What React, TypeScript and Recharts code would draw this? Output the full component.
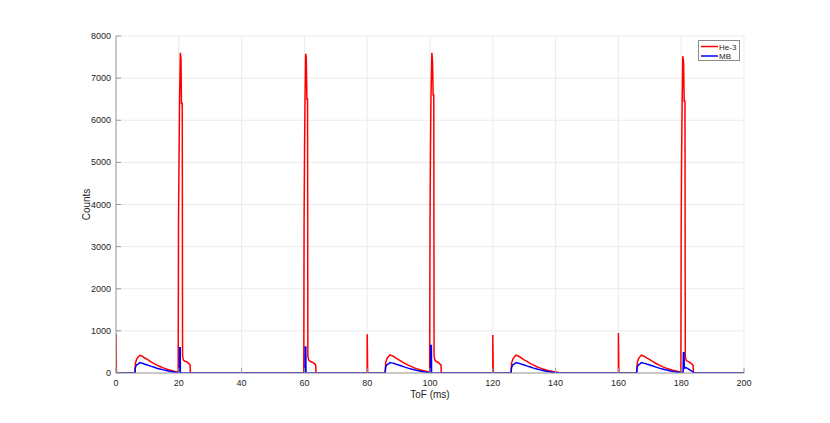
import React from 'react';
import { LineChart, Line, XAxis, YAxis, CartesianGrid, Legend } from 'recharts';

const xTicks = [0, 20, 40, 60, 80, 100, 120, 140, 160, 180, 200];
const yTicks = [0, 1000, 2000, 3000, 4000, 5000, 6000, 7000, 8000];

// He-3 detector counts: [time (ms), counts]
const he3Points: [number, number][] = [
  [0, 930], [0.15, 0],
  [6.0, 0], [6.2, 240], [6.6, 330], [7.0, 372], [7.6, 420], [8.0, 408], [8.5, 392], [9.0, 362], [10, 322], [11, 270], [12, 230], [13, 186], [14, 154], [15, 121], [16, 96], [17, 71], [18, 53], [19, 33], [19.8, 20],
  [19.9, 3500], [20.1, 5300], [20.25, 6500], [20.5, 7600], [20.7, 7450], [20.85, 6400], [21.1, 6400], [21.2, 400], [21.5, 300], [22, 280], [22.6, 262], [23.2, 222], [23.6, 190], [23.7, 0],
  [59.8, 0], [59.9, 3600], [60.05, 5300], [60.2, 6500], [60.4, 7580], [60.6, 7480], [60.8, 6500], [61.0, 6500], [61.1, 400], [61.4, 300], [62, 272], [62.6, 250], [63.2, 222], [63.6, 188], [63.7, 0],
  [80, 0], [80, 920], [80.15, 0],
  [85.7, 0], [85.9, 250], [86.3, 342], [86.8, 392], [87.3, 430], [87.8, 414], [88.4, 392], [89, 358], [90, 320], [91, 268], [92, 230], [93, 188], [94, 157], [95, 122], [96, 98], [97, 72], [98, 55], [99, 35], [99.9, 22],
  [100.0, 3500], [100.15, 5300], [100.3, 6500], [100.6, 7600], [100.8, 7400], [101.0, 6600], [101.2, 6600], [101.3, 400], [101.6, 300], [102, 272], [102.6, 250], [103.2, 212], [103.5, 190], [103.6, 0],
  [120, 0], [120, 900], [120.15, 0],
  [125.8, 0], [126.0, 240], [126.4, 332], [126.9, 386], [127.4, 424], [127.9, 410], [128.5, 386], [129, 362], [130, 314], [131, 270], [132, 224], [133, 188], [134, 149], [135, 122], [136, 93], [137, 72], [138, 51], [139, 36], [140, 22], [141, 10], [142, 0],
  [160, 0], [160, 950], [160.15, 0],
  [165.8, 0], [166.0, 242], [166.4, 334], [166.9, 388], [167.3, 426], [167.8, 410], [168.4, 388], [169, 360], [170, 316], [171, 268], [172, 226], [173, 186], [174, 152], [175, 121], [176, 95], [177, 71], [178, 53], [179, 34], [179.9, 22],
  [180.0, 3500], [180.15, 5300], [180.3, 6400], [180.5, 7520], [180.75, 7380], [180.95, 6450], [181.2, 6450], [181.3, 400], [181.6, 300], [182, 282], [182.6, 258], [183.2, 224], [183.8, 182], [183.9, 0],
  [200, 0],
];

// MB detector counts: [time (ms), counts]
const mbPoints: [number, number][] = [
  [0, 0],
  [6.0, 0], [6.2, 140], [6.6, 196], [7.0, 212], [7.6, 246], [8.0, 238], [8.5, 230], [9.0, 212], [10, 192], [11, 163], [12, 142], [13, 114], [14, 97], [15, 74], [16, 59], [17, 42], [18, 31], [19, 19], [20, 12], [20.2, 8],
  [20.25, 600], [20.45, 600], [20.5, 0],
  [60.2, 0], [60.25, 620], [60.45, 620], [60.5, 0],
  [85.7, 0], [85.9, 146], [86.3, 198], [86.8, 216], [87.3, 250], [87.8, 240], [88.4, 230], [89, 214], [90, 190], [91, 166], [92, 140], [93, 116], [94, 95], [95, 76], [96, 58], [97, 44], [98, 30], [99, 20], [100, 12], [100.2, 8],
  [100.25, 650], [100.45, 650], [100.5, 0],
  [125.8, 0], [126.0, 142], [126.4, 195], [126.9, 214], [127.4, 246], [127.9, 236], [128.5, 228], [129, 212], [130, 190], [131, 164], [132, 141], [133, 115], [134, 96], [135, 75], [136, 59], [137, 43], [138, 30], [139, 20], [140, 12], [141, 5], [142, 0],
  [165.8, 0], [166.0, 144], [166.4, 196], [166.9, 215], [167.3, 248], [167.8, 238], [168.4, 229], [169, 213], [170, 191], [171, 165], [172, 140], [173, 116], [174, 96], [175, 75], [176, 58], [177, 44], [178, 31], [179, 20], [180, 12], [180.6, 8],
  [180.7, 480], [180.9, 480], [181.0, 110], [181.5, 130], [182.5, 85], [183.5, 40], [184, 0],
  [200, 0],
];

const he3Data = he3Points.map(([t, c]) => ({ t, c }));
const mbData = mbPoints.map(([t, c]) => ({ t, c }));

const FONT = '"Liberation Sans", Arial, Helvetica, sans-serif';
const AXIS = '#9a9a9a';
const TEXT = '#262626';
const GRID = '#ebebeb';

const BottomTick = (props: any) => {
  const { x, y, payload } = props;
  return (
    <g>
      <line x1={x} y1={y} x2={x} y2={y - 5} stroke={AXIS} />
      <text x={x} y={y + 13} textAnchor="middle" fontSize={9} fill={TEXT} fontFamily={FONT}>
        {payload.value}
      </text>
    </g>
  );
};

const TopTick = (props: any) => {
  const { x, y } = props;
  return <line x1={x} y1={y} x2={x} y2={y + 5} stroke={AXIS} />;
};

const LeftTick = (props: any) => {
  const { x, y, payload } = props;
  return (
    <g>
      <line x1={x} y1={y} x2={x + 5} y2={y} stroke={AXIS} />
      <text x={x - 5} y={y + 3} textAnchor="end" fontSize={9} fill={TEXT} fontFamily={FONT}>
        {payload.value}
      </text>
    </g>
  );
};

const RightTick = (props: any) => {
  const { x, y } = props;
  return <line x1={x} y1={y} x2={x - 5} y2={y} stroke={AXIS} />;
};

const LegendBox = () => (
  <div
    style={{
      width: 42,
      height: 21,
      border: '1px solid #8a8a8a',
      background: '#fff',
      boxSizing: 'border-box',
    }}
  >
    <svg width={42} height={21} style={{ display: 'block' }}>
      <line x1={2} y1={5.5} x2={19} y2={5.5} stroke="#ff0000" strokeWidth={1.5} />
      <text x={20} y={8.5} fontSize={8} fill={TEXT} fontFamily={FONT}>He-3</text>
      <line x1={2} y1={15} x2={19} y2={15} stroke="#0000ff" strokeWidth={1.5} />
      <text x={20} y={18} fontSize={8} fill={TEXT} fontFamily={FONT}>MB</text>
    </svg>
  </div>
);

export default function App() {
  return (
    <div style={{ position: 'absolute', left: 0, top: 0, background: '#fff' }}>
      <LineChart width={830} height={423} margin={{ top: 36, right: 86, bottom: 12, left: 60 }}>
        <CartesianGrid stroke={GRID} strokeWidth={1} />
        <XAxis
          dataKey="t"
          type="number"
          domain={[0, 200]}
          ticks={xTicks}
          allowDataOverflow
          height={38}
          tickSize={0}
          tickMargin={0}
          tickLine={false}
          axisLine={{ stroke: AXIS }}
          tick={<BottomTick />}
          interval={0}
          label={{ value: 'ToF (ms)', position: 'center', dy: 2, fontSize: 10, fill: TEXT, fontFamily: FONT }}
        />
        <XAxis
          xAxisId="top"
          orientation="top"
          dataKey="t"
          type="number"
          domain={[0, 200]}
          ticks={xTicks}
          allowDataOverflow
          height={0}
          tickSize={0}
          tickMargin={0}
          tickLine={false}
          axisLine={{ stroke: AXIS }}
          tick={<TopTick />}
          interval={0}
        />
        <YAxis
          type="number"
          domain={[0, 8000]}
          ticks={yTicks}
          allowDataOverflow
          width={56}
          tickSize={0}
          tickMargin={0}
          tickLine={false}
          axisLine={{ stroke: AXIS }}
          tick={<LeftTick />}
          interval={0}
          label={{ value: 'Counts', angle: -90, position: 'center', dx: -2, fontSize: 10, fill: TEXT, fontFamily: FONT }}
        />
        <YAxis
          yAxisId="right"
          orientation="right"
          type="number"
          domain={[0, 8000]}
          ticks={yTicks}
          allowDataOverflow
          width={0}
          tickSize={0}
          tickMargin={0}
          tickLine={false}
          axisLine={{ stroke: AXIS }}
          tick={<RightTick />}
          interval={0}
        />
        <Legend
          layout="horizontal"
          verticalAlign="middle"
          align="center"
          content={<LegendBox />}
          wrapperStyle={{ position: 'absolute', left: 698, top: 40, width: 42, height: 21 }}
        />
        <Line
          data={he3Data}
          dataKey="c"
          name="He-3"
          type="linear"
          stroke="#ff0000"
          strokeWidth={1.5}
          dot={false}
          activeDot={false}
          isAnimationActive={false}
        />
        <Line
          data={mbData}
          dataKey="c"
          name="MB"
          type="linear"
          stroke="#0000ff"
          strokeWidth={1.5}
          dot={false}
          activeDot={false}
          isAnimationActive={false}
        />
      </LineChart>
    </div>
  );
}
